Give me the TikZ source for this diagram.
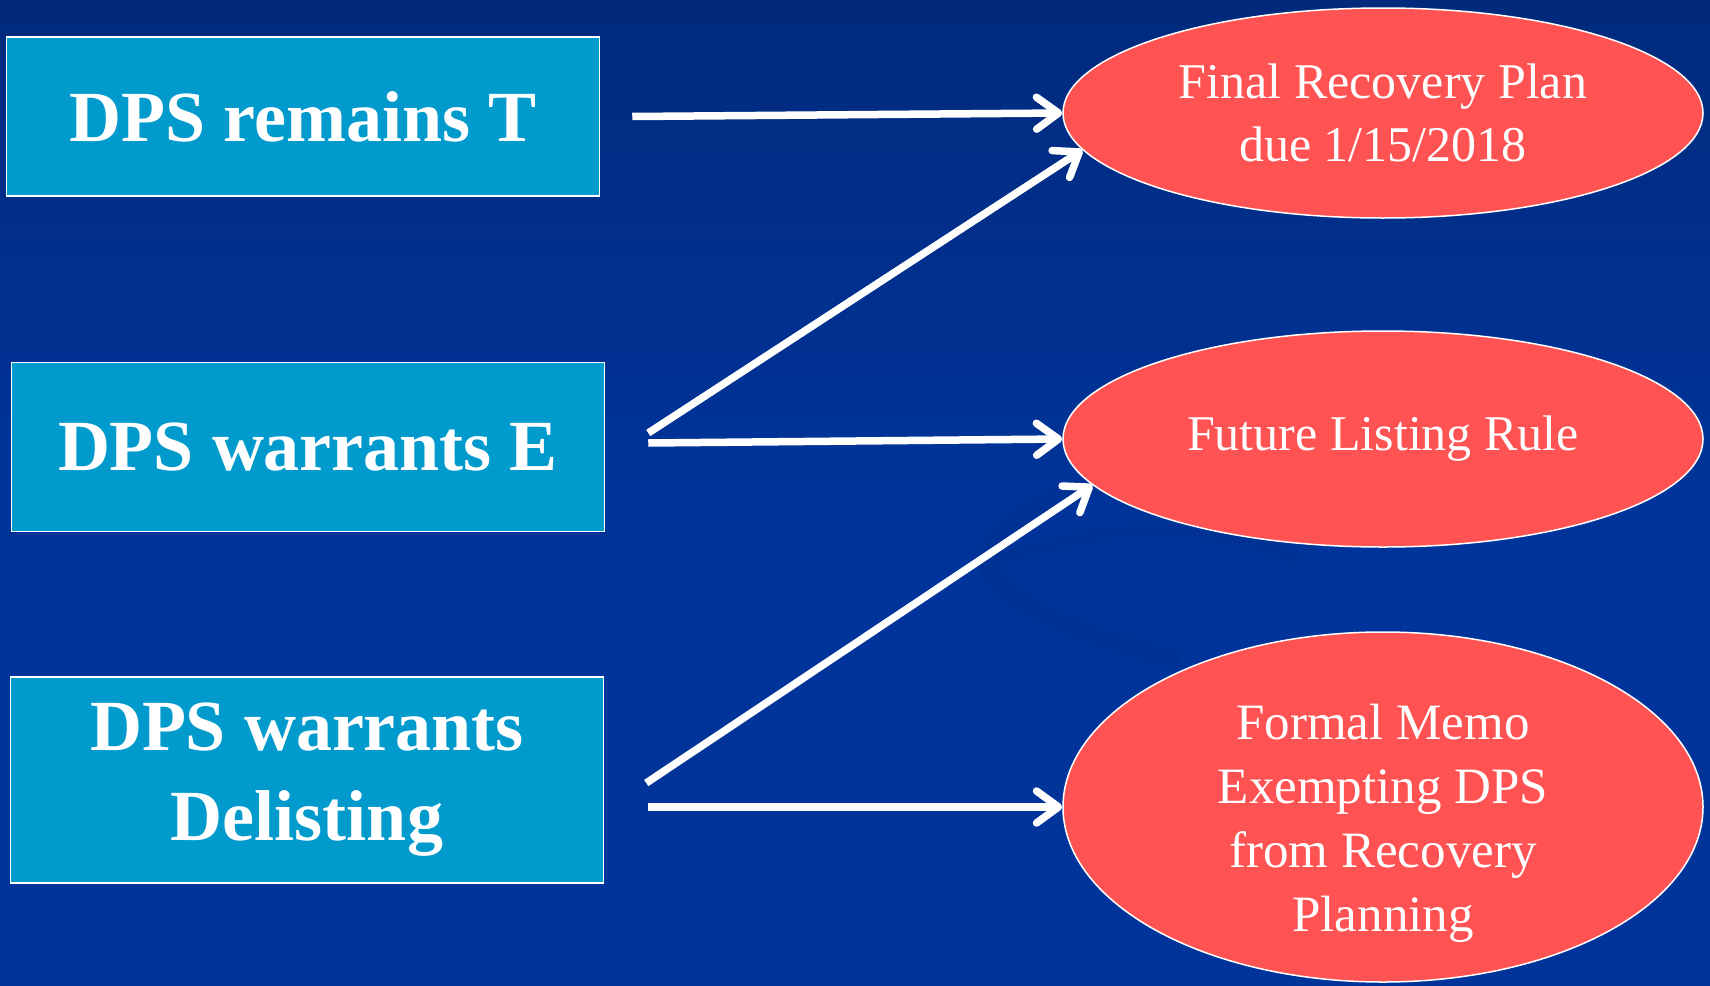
\documentclass[tikz,border=0pt]{standalone}
\usepackage{fontspec}
\setmainfont{Liberation Serif}
\usetikzlibrary{shapes.geometric,arrows.meta}
\definecolor{bgtop}{HTML}{012A7C}
\definecolor{bgbot}{HTML}{00349A}
\definecolor{swoosh}{HTML}{022C88}
\definecolor{boxfill}{HTML}{009ACD}
\definecolor{ellfill}{HTML}{FF5252}
\begin{document}
\begin{tikzpicture}[x=1pt,y=-1pt,
  boxnode/.style={draw=white,line width=1.5pt,fill=boxfill,text=white,
    minimum width=593pt,inner sep=0pt,align=center,
    font=\fontsize{72}{90}\selectfont\bfseries},
  ellnode/.style={ellipse,draw=white,line width=1.5pt,fill=ellfill,text=white,
    minimum width=640pt,inner sep=0pt,align=center,
    font=\fontsize{50}{63}\selectfont},
  elltext/.style={text=white,inner sep=0pt,align=center,font=\fontsize{51}{64}\selectfont},
  arr/.style={white,line width=7.5pt,-{Straight Barb[length=22pt,width=32pt,round]}}]
\useasboundingbox (0,0) rectangle (1710,985);
\fill[top color=bgtop,bottom color=bgbot,middle color=bgbot,shading angle=0] (0,0) rectangle (1710,985);
% faint background swooshes
\draw[swoosh,line width=22pt,opacity=0.3] (1150,470) .. controls (930,520) and (930,600) .. (1180,660);
\draw[swoosh,line width=14pt,opacity=0.25] (1300,560) .. controls (1200,520) and (1120,520) .. (1000,560);
% boxes
\node[boxnode,minimum height=159pt] (b1) at (303,116.5) {DPS remains T};
\node[boxnode,minimum height=169pt] (b2) at (308,447) {DPS warrants E};
\node[boxnode,minimum height=206pt] (b3) at (307,780) {\raisebox{-4pt}{DPS warrants}\\\raisebox{-4pt}{Delisting}};
% ellipses
\node[ellnode,minimum height=210pt] (e1) at (1383,113) {Final Recovery Plan\\due 1/15/2018};
\node[ellnode,minimum height=216pt] (e2) at (1383,439) {Future Listing Rule};
\node[ellnode,minimum height=350pt] (e3) at (1383,807) {};
\node[elltext] (t3) at ([yshift=-16pt]e3.center) {Formal Memo\\Exempting DPS\\from Recovery\\Planning};
% arrow starts
\coordinate (s1) at ([xshift=32pt]b1.east);
\coordinate (s2) at ([xshift=43pt,yshift=14pt]b2.east);
\coordinate (s3) at ([xshift=43pt,yshift=4pt]b2.east);
\coordinate (s4) at ([xshift=42pt,yshift=-3pt]b3.east);
\coordinate (s5) at ([xshift=44pt,yshift=-27pt]b3.east);
% arrows
\draw[arr] (s1) -- (e1.west);
\draw[arr] (s2) -- (e1.187);
\draw[arr] (s3) -- (e2.west);
\draw[arr] (s4) -- (e2.189);
\draw[arr] (s5) -- (e3.west);
\end{tikzpicture}
\end{document}
